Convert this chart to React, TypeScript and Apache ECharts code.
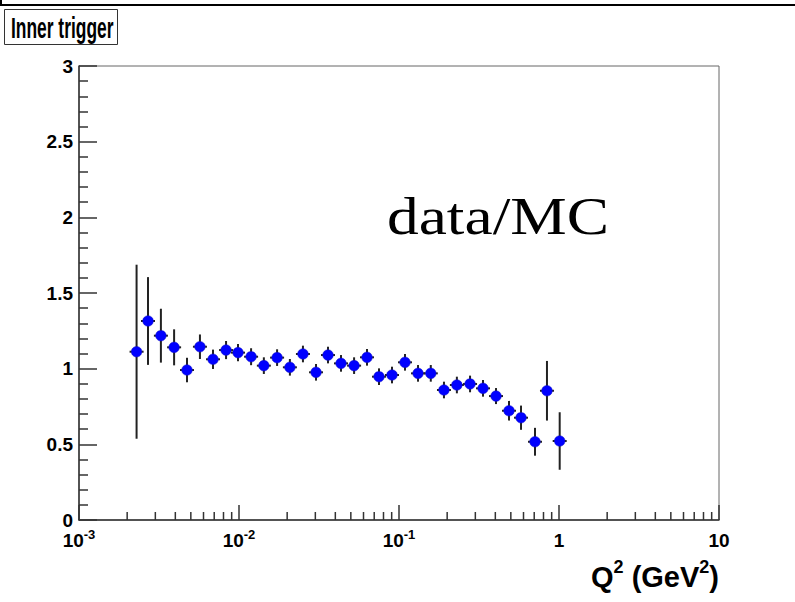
import React, { useEffect, useRef } from "react";
import * as echarts from "echarts";

// Q^2 bin centres (GeV^2)
const q2 = [
  0.00229, 0.0027, 0.00325, 0.00393, 0.00473, 0.0057, 0.00688, 0.0083, 0.00986,
  0.0119, 0.0143, 0.0173, 0.0208, 0.0251, 0.0303, 0.036, 0.0434, 0.0524, 0.0631,
  0.075, 0.0904, 0.109, 0.1315, 0.158, 0.191, 0.23, 0.278, 0.335, 0.404, 0.487,
  0.579, 0.708, 0.841, 1.01,
];
// data/MC ratio
const ratio = [
  1.112, 1.315, 1.218, 1.141, 0.991, 1.145, 1.062, 1.123, 1.106, 1.079, 1.02,
  1.073, 1.009, 1.097, 0.976, 1.09, 1.035, 1.02, 1.075, 0.947, 0.958, 1.042,
  0.969, 0.969, 0.859, 0.892, 0.899, 0.87, 0.819, 0.722, 0.676, 0.517, 0.854,
  0.522,
];
// symmetric errors on the ratio
const ratioErr = [
  0.575, 0.29, 0.178, 0.119, 0.081, 0.081, 0.064, 0.06, 0.057, 0.056, 0.055,
  0.055, 0.055, 0.055, 0.055, 0.055, 0.055, 0.055, 0.055, 0.055, 0.055, 0.055,
  0.055, 0.055, 0.055, 0.055, 0.055, 0.055, 0.053, 0.065, 0.08, 0.092, 0.197,
  0.19,
];
// minor tick positions on the log axis
const minorTicks = [
  0.002, 0.003, 0.004, 0.005, 0.006, 0.007, 0.008, 0.009,
  0.02, 0.03, 0.04, 0.05, 0.06, 0.07, 0.08, 0.09,
  0.2, 0.3, 0.4, 0.5, 0.6, 0.7, 0.8, 0.9,
  2, 3, 4, 5, 6, 7, 8, 9,
];
const titleText = "Inner trigger";
const overlayText = "data/MC";

const SANS = "'Liberation Sans', Arial, Helvetica, sans-serif";
const SERIF = "'Liberation Serif', 'Times New Roman', serif";

export default function App() {
  const ref = useRef<HTMLDivElement>(null);
  useEffect(() => {
    if (!ref.current) return;
    const chart = echarts.init(ref.current, undefined, { renderer: "svg" });
    const points = q2.map((x, i) => [x, ratio[i], ratioErr[i]]);
    const option: any = {
      animation: false,
      backgroundColor: "#fff",
      grid: {
        left: 79,
        top: 66,
        width: 640,
        height: 454,
        show: true,
        borderColor: "#666",
        borderWidth: 1,
        backgroundColor: "transparent",
      },
      xAxis: {
        type: "log",
        logBase: 10,
        min: 0.001,
        max: 10,
        axisLine: { show: true, lineStyle: { color: "#333", width: 1.5 } },
        axisTick: { show: true, inside: true, length: 15, lineStyle: { color: "#333", width: 1.5 } },
        minorTick: { show: false },
        splitLine: { show: false },
        axisLabel: {
          margin: 8,
          color: "#000",
          formatter: (v: number) => {
            const e = Math.round(Math.log10(v));
            if (e === 0) return "{b|1}";
            if (e === 1) return "{b|10}";
            return "{b|10}{s|" + e + "}";
          },
          rich: {
            b: { fontSize: 19, fontWeight: "bold", fontFamily: SANS, color: "#000", lineHeight: 25 },
            s: { fontSize: 13, fontWeight: "bold", fontFamily: SANS, color: "#000", verticalAlign: "top", lineHeight: 14 },
          },
        },
      },
      yAxis: {
        type: "value",
        min: 0,
        max: 3,
        interval: 0.5,
        axisLine: { show: true, lineStyle: { color: "#333", width: 1.5 } },
        axisTick: { show: true, inside: true, length: 18, lineStyle: { color: "#333", width: 1.5 } },
        minorTick: { show: true, splitNumber: 5, length: 9, lineStyle: { color: "#333", width: 1.5 } },
        splitLine: { show: false },
        axisLabel: {
          margin: 6,
          fontSize: 19,
          fontWeight: "bold",
          fontFamily: SANS,
          color: "#000",
        },
      },
      series: [
        {
          type: "custom",
          name: "minor x ticks",
          data: minorTicks.map((v) => [v, 0]),
          clip: false,
          silent: true,
          renderItem: (params: any, api: any) => {
            const p = api.coord([api.value(0), 0]);
            return {
              type: "line",
              shape: { x1: p[0], y1: p[1], x2: p[0], y2: p[1] - 8 },
              style: { stroke: "#333", lineWidth: 1.5 },
            };
          },
        },
        {
          type: "custom",
          name: "data/MC",
          data: points,
          clip: false,
          renderItem: (params: any, api: any) => {
            const x = api.value(0);
            const y = api.value(1);
            const e = api.value(2);
            const p = api.coord([x, y]);
            const top = api.coord([x, y + e]);
            const bot = api.coord([x, y - e]);
            return {
              type: "group",
              children: [
                {
                  type: "line",
                  shape: { x1: p[0], y1: top[1], x2: p[0], y2: bot[1] },
                  style: { stroke: "#222", lineWidth: 2 },
                },
                {
                  type: "line",
                  shape: { x1: p[0] - 7, y1: p[1], x2: p[0] + 7, y2: p[1] },
                  style: { stroke: "#222", lineWidth: 2 },
                },
                {
                  type: "circle",
                  shape: { cx: p[0], cy: p[1], r: 5.3 },
                  style: { fill: "#0000ff", stroke: "#1010c0", lineWidth: 0.5 },
                },
              ],
            };
          },
        },
      ],
      graphic: [
        // top frame remnant
        {
          type: "line",
          shape: { x1: 0, y1: 5, x2: 795, y2: 5 },
          style: { stroke: "#000", lineWidth: 2 },
        },
        {
          type: "line",
          shape: { x1: 1, y1: 0, x2: 1, y2: 5 },
          style: { stroke: "#000", lineWidth: 2 },
        },
        // title box
        {
          type: "rect",
          shape: { x: 4.5, y: 9.5, width: 113, height: 35 },
          style: { fill: "#fff", stroke: "#333", lineWidth: 1 },
        },
        {
          type: "text",
          x: 11,
          y: 27.5,
          scaleX: 0.6,
          style: {
            text: titleText,
            font: "bold 29px " + SANS,
            fill: "#000",
            verticalAlign: "middle",
          },
        },
        // overlay label
        {
          type: "text",
          x: 387,
          y: 217,
          scaleX: 1.22,
          style: {
            text: overlayText,
            font: "52px " + SERIF,
            fill: "#000",
            verticalAlign: "middle",
          },
        },
        // x axis title
        {
          type: "text",
          right: 76,
          top: 558,
          style: {
            text: "{a|Q}{s|2}{a| (GeV}{s|2}{a|)}",
            rich: {
              a: { fontSize: 29, fontWeight: "bold", fontFamily: SANS, color: "#000", lineHeight: 38 },
              s: { fontSize: 18, fontWeight: "bold", fontFamily: SANS, color: "#000", verticalAlign: "top", lineHeight: 20 },
            },
          },
        },
      ],
    };
    chart.setOption(option);
    return () => chart.dispose();
  }, []);
  return (
    <div
      ref={ref}
      style={{ position: "fixed", left: 0, top: 0, width: 795, height: 602 }}
    />
  );
}
